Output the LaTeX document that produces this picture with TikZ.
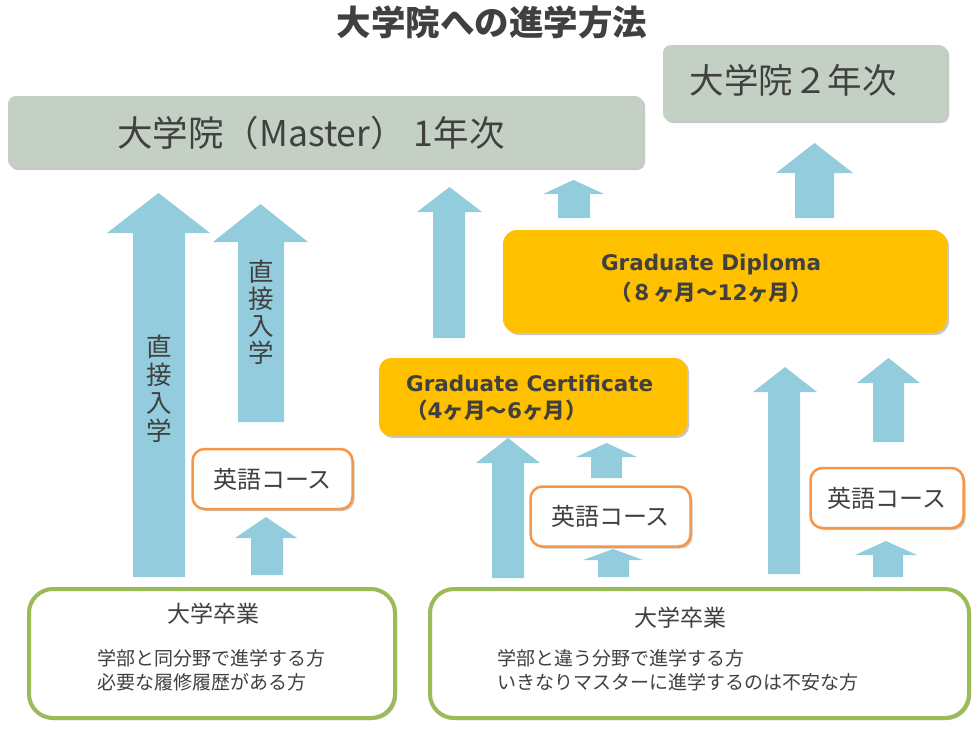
\documentclass[tikz,border=0pt]{standalone}
\usepackage{fontspec}
\setmainfont{Noto Sans CJK JP}
\newfontfamily\dvs{DejaVu Sans}
\usetikzlibrary{shadows}
\definecolor{arrowc}{HTML}{93CDDD}
\definecolor{txt}{HTML}{404040}
\definecolor{graybox}{HTML}{C3D0C3}
\definecolor{amber}{HTML}{FFC000}
\definecolor{engc}{HTML}{F79646}
\definecolor{grnc}{HTML}{9BBB59}
\newcommand\blockarrow[7]{\fill[arrowc] (#1,#7) -- (#1,#6) -- (#3,#6) -- ({(#3+#4)/2},#5) -- (#4,#6) -- (#2,#6) -- (#2,#7) -- cycle;}
\tikzset{
  shad/.style={drop shadow={shadow xshift=2pt,shadow yshift=-2pt,opacity=0.22,fill=black}},
  yearbox/.style={fill=graybox,rounded corners=8pt,inner sep=0pt,shad},
  gradbox/.style={fill=amber,rounded corners=14pt,inner sep=0pt,shad},
  engbox/.style={draw=engc,line width=2.5pt,fill=white,rounded corners=12pt,inner sep=0pt,
    minimum width=160pt,minimum height=60pt,font=\fontsize{24}{26}\selectfont,text=txt,shad},
  gradbtm/.style={draw=grnc,line width=4pt,fill=white,rounded corners=24pt,inner sep=0pt,shad},
  lbl/.style={text=txt,inner sep=0pt},
}
\begin{document}
\begin{tikzpicture}[x=1pt,y=-1pt]
\useasboundingbox (0,0) rectangle (979,731);
% title
\node[lbl,font=\fontsize{34.5}{36}\selectfont\bfseries] (title) at (492,22) {大学院への進学方法};
% year boxes
\node[yearbox,minimum width=635pt,minimum height=72pt] (master) at (325.5,132) {};
\node[lbl,font=\fontsize{35.5}{38}\selectfont] (masterT) at (311,133) {大学院（Master） 1年次};
\node[yearbox,minimum width=284pt,minimum height=76pt] (year2) at (805,83) {};
\node[lbl,font=\fontsize{34.5}{38}\selectfont] (year2T) at (793,80) {大学院２年次};
% graduate boxes
\node[gradbox,minimum width=444pt,minimum height=103pt] (dip) at (725,281.5) {};
\node[lbl,align=center,font=\fontsize{21.5}{30}\selectfont\bfseries] (dipT) at (711,278)
  {{\dvs Graduate Diploma}\\（８ヶ月～{\dvs 12}ヶ月）};
\node[gradbox,rounded corners=12pt,minimum width=308pt,minimum height=78pt] (cert) at (533,397) {};
\node[lbl,align=left,font=\fontsize{21.5}{27}\selectfont\bfseries,anchor=west] (certT) at (406,397.5)
  {{\dvs Graduate Certificate}\\（{\dvs 4}ヶ月～{\dvs 6}ヶ月）};
% arrows
\blockarrow{133}{185}{107}{210}{193}{233}{577}
\blockarrow{238}{284}{213}{308}{204}{242}{422}
\blockarrow{251}{283}{235}{297}{517}{538}{575}
\blockarrow{433}{465}{417}{482}{187}{212}{338}
\blockarrow{558}{590}{543}{604}{180}{194}{218}
\blockarrow{492}{524}{476}{540}{438}{463}{578}
\blockarrow{591}{622}{576}{637}{443}{457}{478}
\blockarrow{598}{629}{583}{643}{549}{560}{577}
\blockarrow{795}{834}{776}{853}{143}{173}{218}
\blockarrow{768}{800}{753}{817}{367}{392}{574}
\blockarrow{873}{904}{857}{920}{358}{383}{442}
\blockarrow{873}{903}{855}{917}{541}{555}{577}
\node[lbl,align=center,font=\fontsize{25.5}{28}\selectfont] (direct1) at (159,389) {直\\接\\入\\学};
\node[lbl,align=center,font=\fontsize{25.5}{27}\selectfont] (direct2) at (261,312) {直\\接\\入\\学};
% english courses
\node[engbox] (eng1) at (272.5,479) {英語コース};
\node[engbox] (eng2) at (610.5,516.5) {英語コース};
\node[engbox,minimum width=153pt] (eng3) at (887,498) {英語コース};
% bottom boxes
\node[gradbtm,minimum width=366pt,minimum height=129pt] (grad1) at (212,653.5) {};
\node[lbl,font=\fontsize{23}{26}\selectfont] (grad1T) at (213,614) {大学卒業};
\node[lbl,align=left,anchor=west,font=\fontsize{19}{24}\selectfont] (grad1L) at (97,670)
  {学部と同分野で進学する方\\必要な履修履歴がある方};
\node[gradbtm,minimum width=539pt,minimum height=129pt] (grad2) at (699.5,653.5) {};
\node[lbl,font=\fontsize{23}{26}\selectfont] (grad2T) at (680,618) {大学卒業};
\node[lbl,align=left,anchor=west,font=\fontsize{19}{24}\selectfont] (grad2L) at (497,670)
  {学部と違う分野で進学する方\\いきなりマスターに進学するのは不安な方};
\end{tikzpicture}
\end{document}
